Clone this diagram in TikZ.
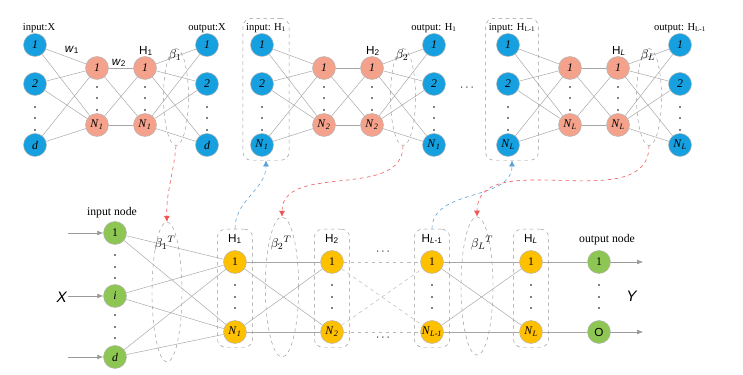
\documentclass[tikz,border=0pt]{standalone}
\usepackage{fontspec}
\setmainfont{Liberation Serif}
\setsansfont{Liberation Sans}
\usetikzlibrary{positioning,fit,shapes.geometric,arrows.meta}

\definecolor{aeblue}{HTML}{16A0E0}
\definecolor{aesalmon}{HTML}{F4A28C}
\definecolor{aegreen}{HTML}{8DC653}
\definecolor{aeyellow}{HTML}{FFC000}
\definecolor{linkred}{HTML}{F05555}
\definecolor{linkblue}{HTML}{5BA3D9}

\tikzset{
  unit/.style={circle, draw=gray!60, minimum size=0.69cm, inner sep=0pt, font=\fontsize{10}{11}\selectfont},
  inunit/.style={unit, fill=aeblue},
  hidunit/.style={unit, fill=aesalmon},
  ionode/.style={unit, fill=aegreen},
  hlunit/.style={unit, fill=aeyellow},
  link/.style={draw=gray!70, line width=0.4pt},
  dashlink/.style={draw=gray!55, line width=0.4pt, dashed},
  feed/.style={draw=gray!80, line width=0.5pt, -{Latex[length=5pt,width=4pt]}},
  betaring/.style={ellipse, draw=gray!80, dashed, inner sep=0pt},
  groupbox/.style={draw=gray!80, dashed, rounded corners=7pt},
  redlink/.style={draw=linkred, dashed, line width=0.5pt, -{Latex[length=5pt,width=5pt]}},
  bluelink/.style={draw=linkblue, dashed, line width=0.5pt, -{Latex[length=5pt,width=5pt]}},
  caption/.style={font=\fontsize{9}{10}\selectfont, inner sep=1pt},
  dot/.style={fill=black, circle, inner sep=0pt, minimum size=1.5pt}
}

\begin{document}
\begin{tikzpicture}[x=0.03cm, y=-0.03cm]
  \useasboundingbox[fill=white] (0,0) rectangle (743,375);

  % Top: the three stacked autoencoders
  \foreach \b/\ox/\dlast/\nlast/\inlab/\outlab/\hlab/\blab in {
      1/35/{\textit{d}}/{\textit{N}\textsubscript{\textit{1}}}/{input:X}/{output:X}/{H\textsubscript{1}}/{1},
      2/262/{\textit{N}\textsubscript{\textit{1}}}/{\textit{N}\textsubscript{\textit{2}}}/{input: H\textsubscript{1}}/{output: H\textsubscript{1}}/{H\textsubscript{2}}/{2},
      3/508/{\textit{N}\textsubscript{\textit{L}}}/{\textit{N}\textsubscript{\textit{L}}}/{input: H\textsubscript{L-1}}/{output: H\textsubscript{L-1}}/{H\textsubscript{\textit{L}}}/{L}} {
    \node[inunit] (in\b-1) at (\ox,45) {\textit{1}};
    \node[inunit] (in\b-2) at (\ox,84) {\textit{2}};
    \node[inunit] (in\b-3) at (\ox,145) {\dlast};
    \node[hidunit] (hid\b-1) at (\ox+62,68) {\textit{1}};
    \node[hidunit] (hid\b-2) at (\ox+62,125) {\nlast};
    \node[hidunit] (h\b-1) at (\ox+110,68) {\textit{1}};
    \node[hidunit] (h\b-2) at (\ox+110,125) {\nlast};
    \node[inunit] (out\b-1) at (\ox+172,45) {\textit{1}};
    \node[inunit] (out\b-2) at (\ox+172,84) {\textit{2}};
    \node[inunit] (out\b-3) at (\ox+172,145) {\dlast};

    \node[caption] (inlab\b) at (\ox+4,28) {\inlab};
    \node[caption] (outlab\b) at (\ox+172,28) {\outlab};
    \node[caption, font=\sffamily\fontsize{10}{10}\selectfont] (hlab\b) at (\ox+111,51) {\hlab};

    % connections
    \foreach \i in {1,2,3} {
      \foreach \j in {1,2} {
        \draw[link] (in\b-\i) -- (hid\b-\j);
        \draw[link] (h\b-\j) -- (out\b-\i);
      }
    }
    \foreach \i in {1,2} {
      \foreach \j in {1,2} {
        \draw[link] (hid\b-\i) -- (h\b-\j);
      }
    }

    % dots
    \foreach \y in {107,118,130} {
      \node[dot] at (\ox,\y) {};
      \node[dot] at (\ox+172,\y) {};
    }
    \foreach \y in {87,98,110} {
      \node[dot] at (\ox+62,\y) {};
      \node[dot] at (\ox+110,\y) {};
    }

    \node[betaring, minimum width=0.75cm, minimum height=2.91cm] (beta\b) at (\ox+141,97) {};
    \node[caption, font=\fontsize{11}{11}\selectfont] (blab\b) at (\ox+140,55) {$\beta_{\blab}$};
  }

  \node[caption, font=\sffamily\fontsize{10}{10}\selectfont] (w1) at (72,50) {\textit{w}\textsubscript{1}};
  \node[caption, font=\sffamily\fontsize{10}{10}\selectfont] (w2) at (119,63) {\textit{w}\textsubscript{2}};
  \node (tdots) at (467,88) {$\cdots$};

  \node[groupbox, fit=(inlab2)(in2-1)(in2-3), inner xsep=1.5pt, inner ysep=3pt] (tbox2) {};
  \node[groupbox, fit=(inlab3)(in3-1)(in3-3), inner xsep=1.5pt, inner ysep=3pt] (tbox3) {};

  % Bottom: the stacked network
  \node[ionode] (inp-1) at (115,233) {1};
  \node[ionode] (inp-2) at (115,296) {\textit{i}};
  \node[ionode] (inp-3) at (115,357) {\textit{d}};
  \node[font=\fontsize{10}{11}\selectfont] (inlabel) at (112,213) {input node};

  \foreach \k/\x/\hname/\nname in {
      1/235/{H\textsubscript{1}}/{\textit{N}\textsubscript{\textit{1}}},
      2/332/{H\textsubscript{2}}/{\textit{N}\textsubscript{\textit{2}}},
      3/432/{H\textsubscript{\textit{L}-1}}/{\textit{N}\textsubscript{\textit{L-1}}},
      4/531/{H\textsubscript{\textit{L}}}/{\textit{N}\textsubscript{\textit{L}}}} {
    \node[hlunit] (hl\k-1) at (\x,262) {1};
    \node[hlunit] (hl\k-2) at (\x,332) {\nname};
    \node[caption, font=\sffamily\fontsize{10}{10}\selectfont] (hlab\k) at (\x,239) {\hname};
    \foreach \y in {285,297,308} {
      \node[dot] at (\x,\y) {};
    }
    \node[groupbox, fit=(hlab\k)(hl\k-1)(hl\k-2), inner xsep=5pt, inner ysep=3pt] (box\k) {};
  }

  \node[ionode] (outp-1) at (599,262) {1};
  \node[ionode, font=\sffamily\fontsize{10}{10}\selectfont] (outp-2) at (599,332) {O};
  \node[font=\fontsize{10}{11}\selectfont] (outlabel) at (607,240) {output node};

  \foreach \y in {255,267,278,315,327,338} {
    \node[dot] at (115,\y) {};
  }
  \foreach \y in {285,297,308} {
    \node[dot] at (599,\y) {};
  }

  % connections
  \foreach \i in {1,2,3} {
    \foreach \j in {1,2} {
      \draw[link] (inp-\i) -- (hl1-\j);
    }
  }
  \foreach \i in {1,2} {
    \foreach \j in {1,2} {
      \draw[link] (hl1-\i) -- (hl2-\j);
      \draw[dashlink] (hl2-\i) -- (hl3-\j);
      \draw[link] (hl3-\i) -- (hl4-\j);
    }
  }
  \draw[link] (hl4-1) -- (outp-1);
  \draw[link] (hl4-2) -- (outp-2);
  \node (bdots1) at (383,252) {$\cdots$};
  \node (bdots2) at (383,338) {$\cdots$};

  % input and output arrows
  \foreach \i/\y in {1/233,2/296,3/357} {
    \coordinate (xin\i) at (68,\y);
    \draw[feed] (xin\i) -- (inp-\i);
  }
  \coordinate (yout1) at (643,262);
  \coordinate (yout2) at (643,332);
  \draw[feed] (outp-1) -- (yout1);
  \draw[feed] (outp-2) -- (yout2);
  \node[font=\sffamily\fontsize{13}{14}\selectfont] (xlab) at (62,297) {\textit{X}};
  \node[font=\sffamily\fontsize{13}{14}\selectfont] (ylab) at (632,296) {\textit{Y}};

  % transposed output weights
  \node[betaring, minimum width=0.9cm, minimum height=4.2cm] (bt1) at (167,292) {};
  \node[betaring, minimum width=1.0cm, minimum height=4.2cm] (bt2) at (282,287) {};
  \node[betaring, minimum width=0.96cm, minimum height=4.15cm] (bt3) at (477,286) {};
  \node[caption, font=\fontsize{11}{11}\selectfont] (btlab1) at (165,243) {$\beta_1{}^T$};
  \node[caption, font=\fontsize{11}{11}\selectfont] (btlab2) at (281,243) {$\beta_2{}^T$};
  \node[caption, font=\fontsize{11}{11}\selectfont] (btlab3) at (482,243) {$\beta_L{}^T$};

  % links between the two halves
  \draw[redlink] (beta1.south) to[out=-95,in=92] (bt1.north);
  \draw[bluelink] (box1.north) to[out=90,in=-90] (tbox2.south);
  \draw[redlink] (beta2.south) to[out=-90,in=90] (bt2.north);
  \draw[bluelink] (box3.north) to[out=90,in=-90] (tbox3.south);
  \draw[redlink] (beta3.south) to[out=-90,in=90] (bt3.north);
\end{tikzpicture}
\end{document}
